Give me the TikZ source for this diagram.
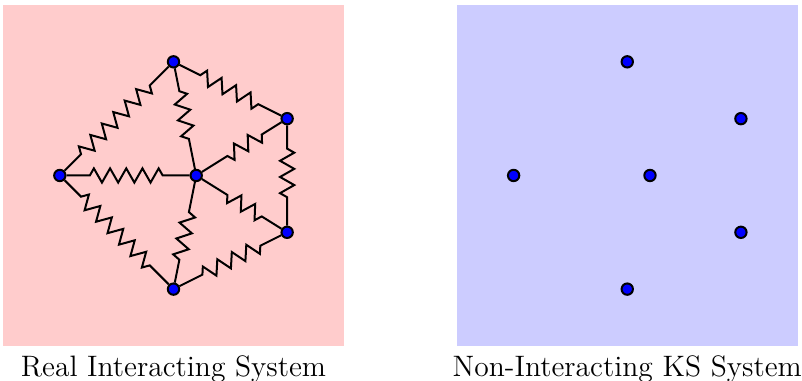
\documentclass[tikz,border=0pt]{standalone}
\usepackage{xcolor}
\usetikzlibrary{positioning,decorations.pathmorphing}

\begin{document}
\begin{tikzpicture}[node distance=1mm,
 panel/.style={minimum size=6cm,inner sep=0pt,outer sep=0pt},
 atom/.style={circle,draw=black,fill=blue,line width=1pt,inner sep=0pt,minimum size=2mm},
 caption/.style={font=\fontsize{14.8}{18}\selectfont,inner sep=0pt},
 spring/.style={line width=1pt,decorate,decoration={zigzag,segment length=2.85mm,amplitude=1.25mm,pre length=4.1mm,post length=4.1mm}}]
\useasboundingbox (-3.053,-3.616) rectangle (11.06,3.088);
\node[panel,fill=red!20] (real) at (0,0) {};
\node[panel,fill=blue!20] (ks) at (7.985,0) {};
\node[caption,below=1.6mm of real] (reallabel) {Real Interacting System};
\node[caption,below=1.6mm of ks] (kslabel) {Non-Interacting KS System};
% atoms, same places in both panels
\foreach \name/\x/\y in {l/-2/0,t/0/2,ur/2/1,lr/2/-1,b/0/-2,c/0.4/0}{
 \node[atom] (r\name) at (\x,\y) {};
 \node[atom] (k\name) at (7.985+\x,\y) {};
}
% springs of the real system
\foreach \from/\to in {rl/rt,rt/rur,rur/rlr,rlr/rb,rl/rb,rl/rc,rt/rc,rur/rc,rlr/rc,rb/rc}
 \draw[spring] (\from) -- (\to);
\end{tikzpicture}
\end{document}
